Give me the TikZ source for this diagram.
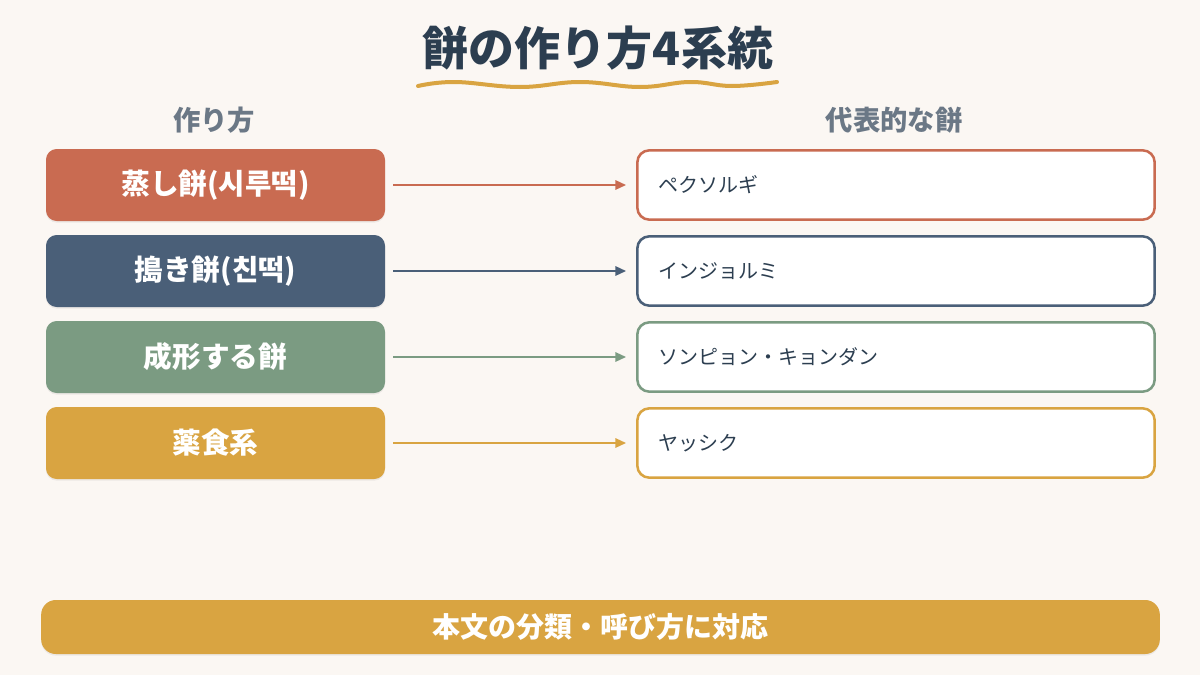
\documentclass[tikz,border=0pt]{standalone}
\usepackage{fontspec}
\setmainfont{Noto Sans CJK JP}
\usetikzlibrary{arrows.meta,shadows}
\definecolor{bg}{HTML}{FBF7F3}
\definecolor{titlec}{HTML}{2C3E50}
\definecolor{headc}{HTML}{6B7886}
\definecolor{cred}{HTML}{C96B51}
\definecolor{cblue}{HTML}{4A5F78}
\definecolor{cgreen}{HTML}{7B9B82}
\definecolor{cgold}{HTML}{D9A441}
\tikzset{
  methodbox/.style={draw=none, rounded corners=8pt, minimum width=254.25pt, minimum height=54pt,
    text=white, font=\bfseries\fontsize{21.5}{24}\selectfont,
    drop shadow={opacity=0.12, shadow xshift=0pt, shadow yshift=-1.2pt}},
  examplebox/.style={draw, fill=white, line width=1.9pt, rounded corners=9pt,
    minimum width=388pt, minimum height=52pt},
  exampletext/.style={anchor=west, text=titlec, font=\fontsize{15}{18}\selectfont, inner sep=0pt},
  headtext/.style={text=headc, font=\bfseries\fontsize{20.5}{24}\selectfont},
  link/.style={line width=1.5pt, -{Triangle[length=8pt,width=7pt]}, shorten <=6pt, shorten >=7.5pt}
}
\begin{document}
\begin{tikzpicture}[x=0.75pt,y=-0.75pt]
\fill[bg] (0,0) rectangle (1200,675);
\useasboundingbox (0,0) rectangle (1200,675);

% title
\node[text=titlec, font=\bfseries\fontsize{34.5}{40}\selectfont] (title) at (598,48) {餅の作り方4系統};
\draw[cgold, line width=3pt, line cap=round] plot[smooth, tension=0.7] coordinates
  {(418,86) (455,82) (520,87) (580,82) (640,87) (690,82) (732,86) (777,82)};

% headers
\node[headtext] (h1) at (214,120) {作り方};
\node[headtext] (h2) at (894,120) {代表的な餅};

% left boxes
\node[methodbox, fill=cred]   (l1) at (215.5,185) {蒸し餅(시루떡)};
\node[methodbox, fill=cblue]  (l2) at (215.5,271) {搗き餅(친떡)};
\node[methodbox, fill=cgreen] (l3) at (215.5,357) {成形する餅};
\node[methodbox, fill=cgold]  (l4) at (215.5,443) {薬食系};

% right boxes
\node[examplebox, draw=cred]   (r1) at (896,185) {};
\node[examplebox, draw=cblue]  (r2) at (896,271) {};
\node[examplebox, draw=cgreen] (r3) at (896,357) {};
\node[examplebox, draw=cgold]  (r4) at (896,443) {};
\node[exampletext] (t1) at (658,185) {ペクソルギ};
\node[exampletext] (t2) at (658,271) {インジョルミ};
\node[exampletext] (t3) at (658,357) {ソンピョン・キョンダン};
\node[exampletext] (t4) at (658,443) {ヤッシク};

% arrows
\draw[link, cred]   (l1) -- (r1);
\draw[link, cblue]  (l2) -- (r2);
\draw[link, cgreen] (l3) -- (r3);
\draw[link, cgold]  (l4) -- (r4);

% bottom bar
\node[fill=cgold, rounded corners=11pt, minimum width=839pt, minimum height=40.5pt,
  text=white, font=\bfseries\fontsize{21}{24}\selectfont,
  drop shadow={opacity=0.12, shadow xshift=0pt, shadow yshift=-1.2pt}] (note) at (600.5,627) {本文の分類・呼び方に対応};
\end{tikzpicture}
\end{document}
